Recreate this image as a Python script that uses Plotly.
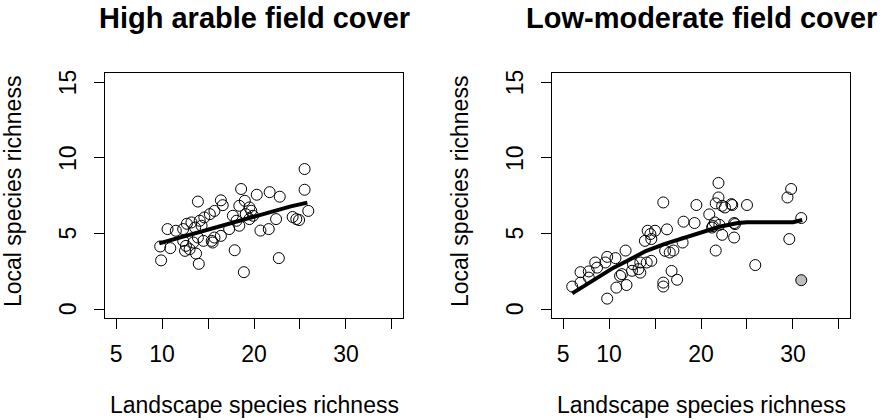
import plotly.graph_objects as go

# ---- data ----
titles = ["High arable field cover", "Low-moderate field cover"]
x_title = "Landscape species richness"
y_title = "Local species richness"
x_tickvals = [5, 10, 15, 20, 25, 30, 35]
x_ticktext = ["5", "10", "", "20", "", "30", ""]
y_tickvals = [0, 5, 10, 15]
y_ticktext = ["0", "5", "10", "15"]

high_x = [25.5, 25.5, 25.9, 24.2, 24.6, 24.9, 22.8, 21.7, 20.3, 22.4, 21.6, 20.7,
          22.7, 18.9, 17.9, 18.6, 16.4, 16.6, 13.9, 19.0, 18.4, 19.5, 19.7, 19.1,
          15.7, 15.2, 14.6, 14.1, 13.2, 12.7, 17.7, 18.1, 18.4, 10.6, 11.5, 12.3,
          13.6, 14.3, 16.4, 15.7, 15.4, 9.8, 10.9, 12.3, 12.6, 13.4, 14.5, 13.9,
          13.0, 12.5, 9.9, 14.0, 13.7, 17.3, 19.9, 19.5, 15.5]
high_y = [9.27, 7.9, 6.5, 6.1, 5.96, 5.9, 7.44, 7.74, 7.57, 5.96, 5.3, 5.2,
          3.38, 2.45, 3.9, 7.95, 7.2, 6.88, 7.12, 7.17, 6.84, 6.73, 6.51, 6.29,
          6.5, 6.29, 6.07, 5.85, 5.74, 5.65, 6.18, 5.85, 5.52, 5.3, 5.19, 5.3,
          5.4, 5.52, 4.85, 4.74, 4.52, 4.15, 4.04, 4.52, 4.19, 4.41, 4.52, 4.74,
          3.97, 3.86, 3.23, 3.0, 3.68, 5.3, 6.18, 5.96, 4.41]
high_fit_x = [9.7, 12, 14, 16, 18, 20, 22, 24, 25.8]
high_fit_y = [4.35, 4.75, 5.1, 5.4, 5.75, 6.15, 6.5, 6.8, 7.05]

low_x = [21.9, 29.8, 29.4, 30.9, 29.6, 25.9, 25.0, 23.4, 23.6, 23.6, 22.3, 21.6,
         20.9, 21.3, 19.5, 19.3, 18.1, 18.0, 15.9, 16.3, 15.0, 14.5, 13.9, 14.6,
         14.2, 16.1, 17.0, 16.8, 17.4, 15.9, 15.9, 11.8, 9.8, 10.8, 11.9, 6.0,
         6.9, 7.8, 8.5, 6.9, 10.7, 9.8, 9.6, 8.7, 7.8, 11.2, 12.6, 13.4,
         14.1, 14.6, 12.5, 13.2, 16.6, 21.9, 21.6, 22.3, 22.6, 23.3, 21.5, 22.0,
         21.2, 23.7, 13.4, 11.4]
low_y = [8.35, 7.95, 7.39, 6.03, 4.64, 2.92, 6.89, 6.89, 5.7, 4.74, 4.92, 3.88,
         6.27, 5.5, 6.89, 5.7, 5.79, 4.41, 7.06, 5.28, 5.19, 4.97, 4.52, 4.64,
         5.19, 3.86, 3.88, 2.53, 1.95, 1.76, 1.5, 3.88, 0.7, 1.43, 1.6, 1.5,
         2.45, 2.5, 3.09, 1.76, 3.38, 3.46, 3.09, 2.75, 2.09, 2.2, 2.98, 3.09,
         3.09, 3.2, 2.54, 2.65, 3.75, 7.39, 7.0, 6.84, 6.73, 6.95, 5.74, 5.58,
         5.4, 5.63, 2.42, 2.32]
low_outlier_x = [30.9]
low_outlier_y = [1.92]
low_fit_x = [6.0, 7.5, 9.0, 10.5, 12, 14, 16, 18, 20, 22, 24, 25, 30, 31]
low_fit_y = [1.05, 1.6, 2.2, 2.75, 3.2, 3.85, 4.3, 4.7, 5.1, 5.45, 5.7, 5.75, 5.75, 5.9]

# ---- figure ----
W, H = 885, 420
reg_font = "Liberation Sans, Arial, sans-serif"
bold_font = "Liberation Sans, Arial, sans-serif"
REG = 23

fig = go.Figure()
open_marker = dict(symbol="circle-open", size=11, color="black", line=dict(width=1, color="black"))

panels = [
    ("x", "y", high_x, high_y, high_fit_x, high_fit_y, None, None),
    ("x2", "y2", low_x, low_y, low_fit_x, low_fit_y, low_outlier_x, low_outlier_y),
]
for xa, ya, px, py, fx, fy, ox, oy in panels:
    fig.add_trace(go.Scatter(x=px, y=py, mode="markers", marker=open_marker,
                             xaxis=xa, yaxis=ya, showlegend=False))
    if ox is not None:
        fig.add_trace(go.Scatter(x=ox, y=oy, mode="markers",
                                 marker=dict(symbol="circle", size=11, color="#bebebe",
                                             line=dict(width=1, color="black")),
                                 xaxis=xa, yaxis=ya, showlegend=False))
    fig.add_trace(go.Scatter(x=fx, y=fy, mode="lines", line=dict(color="black", width=4),
                             xaxis=xa, yaxis=ya, showlegend=False))

box_x = [(105, 403), (552, 850)]
box_y = (73.3, 318.3)
ydom = [(H - box_y[1]) / H, (H - box_y[0]) / H]

axis_common = dict(showgrid=False, zeroline=False, showline=True, mirror=True,
                   linecolor="black", linewidth=1, ticks="outside", ticklen=10,
                   tickcolor="black", tickwidth=1,
                   tickfont=dict(family=reg_font, size=REG, color="black"))

layout = dict(width=W, height=H, margin=dict(l=0, r=0, t=0, b=0),
              paper_bgcolor="white", plot_bgcolor="white", showlegend=False)
annotations = []
for i, (x0, x1) in enumerate(box_x):
    sfx = "" if i == 0 else "2"
    layout["xaxis" + sfx] = dict(axis_common, domain=[x0 / W, x1 / W], range=[3.8, 36.2],
                                 tickmode="array", tickvals=x_tickvals, ticktext=x_ticktext,
                                 ticklabelstandoff=5, anchor="y" + sfx)
    layout["yaxis" + sfx] = dict(axis_common, domain=ydom, range=[-0.6, 15.6],
                                 tickmode="array", tickvals=y_tickvals,
                                 showticklabels=False, anchor="x" + sfx)
    # rotated y tick labels placed on the y scale
    for v, t in zip(y_tickvals, y_ticktext):
        annotations.append(dict(text=t, x=(x0 - 37) / W, y=v, xref="paper", yref="y" + sfx,
                                showarrow=False, textangle=-90, xanchor="center",
                                yanchor="middle",
                                font=dict(family=reg_font, size=REG, color="black")))
    cx = (x0 + x1) / 2 / W
    annotations.append(dict(text="<b>" + titles[i] + "</b>", x=cx, y=1 - 18 / H,
                            xref="paper", yref="paper", showarrow=False,
                            xanchor="center", yanchor="middle",
                            font=dict(family=bold_font, size=29, color="black")))
    annotations.append(dict(text=x_title, x=cx, y=1 - 405 / H, xref="paper", yref="paper",
                            showarrow=False, xanchor="center", yanchor="middle",
                            font=dict(family=reg_font, size=REG, color="black")))
    annotations.append(dict(text=y_title, x=(x0 - 92) / W, y=1 - 192 / H,
                            xref="paper", yref="paper", showarrow=False, textangle=-90,
                            xanchor="center", yanchor="middle",
                            font=dict(family=reg_font, size=REG, color="black")))
layout["annotations"] = annotations
fig.update_layout(**layout)
fig.write_html("out.html")
